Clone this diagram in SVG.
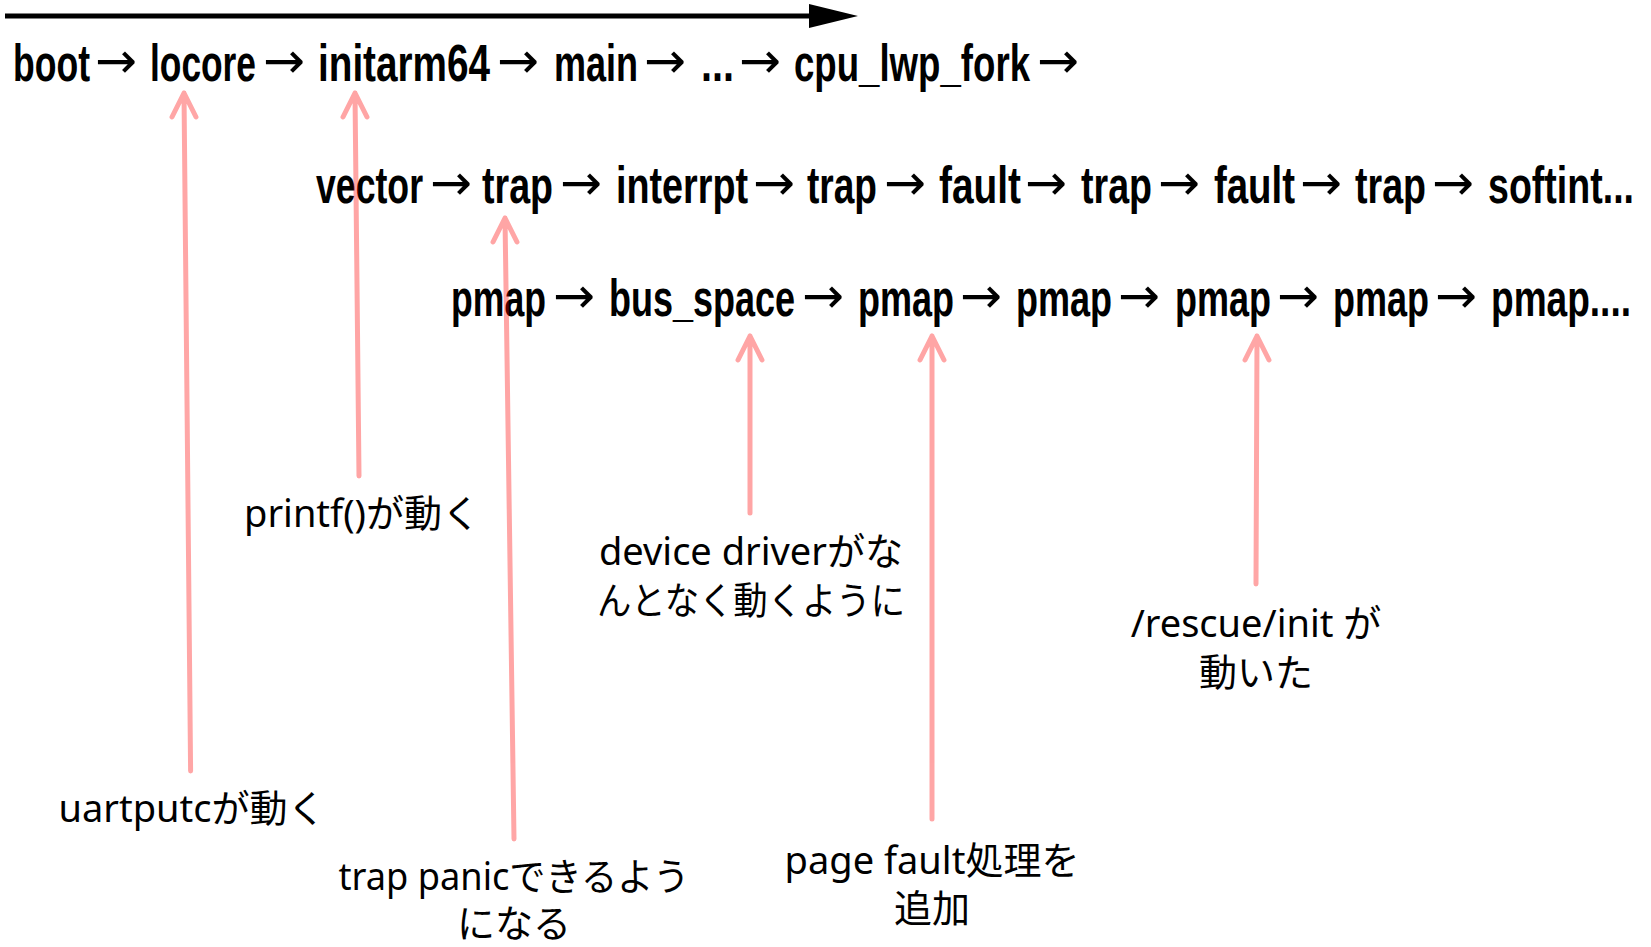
<svg xmlns="http://www.w3.org/2000/svg" width="1651" height="947" viewBox="0 0 1651 947">
<style>
.w{font-family:"Liberation Sans Narrow","Liberation Sans",Arial,sans-serif;font-weight:bold;font-size:52px;fill:#000}
.a{font-family:"DejaVu Sans",sans-serif;font-weight:normal;font-size:50px;fill:#000}
.l{font-family:"Noto Sans","Noto Sans CJK JP",sans-serif;font-size:38px;fill:#000;text-anchor:middle}
.p{stroke:#ff0000;stroke-width:5;fill:none;stroke-linecap:round;stroke-linejoin:round}
</style>
<rect width="1651" height="947" fill="#fff"/>
<g id="timeline">
<line x1="5" y1="16" x2="812" y2="16" stroke="#000" stroke-width="5"/>
<polygon points="809,4 858,16 809,28" fill="#000"/>
</g>
<g id="row1">
<text class="w" x="13" y="81" textLength="77" lengthAdjust="spacingAndGlyphs">boot</text>
<text class="a" x="95" y="78" textLength="42" lengthAdjust="spacingAndGlyphs">→</text>
<text class="w" x="150" y="81" textLength="106" lengthAdjust="spacingAndGlyphs">locore</text>
<text class="a" x="263" y="78" textLength="42" lengthAdjust="spacingAndGlyphs">→</text>
<text class="w" x="318" y="81" textLength="172" lengthAdjust="spacingAndGlyphs">initarm64</text>
<text class="a" x="497" y="78" textLength="42" lengthAdjust="spacingAndGlyphs">→</text>
<text class="w" x="554" y="81" textLength="84" lengthAdjust="spacingAndGlyphs">main</text>
<text class="a" x="644" y="78" textLength="42" lengthAdjust="spacingAndGlyphs">→</text>
<text class="w" x="701" y="81" textLength="33" lengthAdjust="spacingAndGlyphs">...</text>
<text class="a" x="739" y="78" textLength="42" lengthAdjust="spacingAndGlyphs">→</text>
<text class="w" x="794" y="81" textLength="236" lengthAdjust="spacingAndGlyphs">cpu_lwp_fork</text>
<text class="a" x="1037" y="78" textLength="42" lengthAdjust="spacingAndGlyphs">→</text>
</g>
<g id="row2">
<text class="w" x="316" y="203" textLength="107" lengthAdjust="spacingAndGlyphs">vector</text>
<text class="a" x="430" y="200" textLength="42" lengthAdjust="spacingAndGlyphs">→</text>
<text class="w" x="482" y="203" textLength="71" lengthAdjust="spacingAndGlyphs">trap</text>
<text class="a" x="560" y="200" textLength="42" lengthAdjust="spacingAndGlyphs">→</text>
<text class="w" x="616" y="203" textLength="132" lengthAdjust="spacingAndGlyphs">interrpt</text>
<text class="a" x="753" y="200" textLength="42" lengthAdjust="spacingAndGlyphs">→</text>
<text class="w" x="807" y="203" textLength="70" lengthAdjust="spacingAndGlyphs">trap</text>
<text class="a" x="884" y="200" textLength="42" lengthAdjust="spacingAndGlyphs">→</text>
<text class="w" x="939" y="203" textLength="82" lengthAdjust="spacingAndGlyphs">fault</text>
<text class="a" x="1025" y="200" textLength="42" lengthAdjust="spacingAndGlyphs">→</text>
<text class="w" x="1081" y="203" textLength="71" lengthAdjust="spacingAndGlyphs">trap</text>
<text class="a" x="1158" y="200" textLength="42" lengthAdjust="spacingAndGlyphs">→</text>
<text class="w" x="1214" y="203" textLength="81" lengthAdjust="spacingAndGlyphs">fault</text>
<text class="a" x="1300" y="200" textLength="42" lengthAdjust="spacingAndGlyphs">→</text>
<text class="w" x="1355" y="203" textLength="71" lengthAdjust="spacingAndGlyphs">trap</text>
<text class="a" x="1432" y="200" textLength="42" lengthAdjust="spacingAndGlyphs">→</text>
<text class="w" x="1488" y="203" textLength="146" lengthAdjust="spacingAndGlyphs">softint...</text>
</g>
<g id="row3">
<text class="w" x="451" y="316" textLength="95" lengthAdjust="spacingAndGlyphs">pmap</text>
<text class="a" x="553" y="313" textLength="42" lengthAdjust="spacingAndGlyphs">→</text>
<text class="w" x="609" y="316" textLength="186" lengthAdjust="spacingAndGlyphs">bus_space</text>
<text class="a" x="802" y="313" textLength="42" lengthAdjust="spacingAndGlyphs">→</text>
<text class="w" x="858" y="316" textLength="96" lengthAdjust="spacingAndGlyphs">pmap</text>
<text class="a" x="960" y="313" textLength="42" lengthAdjust="spacingAndGlyphs">→</text>
<text class="w" x="1016" y="316" textLength="96" lengthAdjust="spacingAndGlyphs">pmap</text>
<text class="a" x="1118" y="313" textLength="42" lengthAdjust="spacingAndGlyphs">→</text>
<text class="w" x="1175" y="316" textLength="96" lengthAdjust="spacingAndGlyphs">pmap</text>
<text class="a" x="1277" y="313" textLength="42" lengthAdjust="spacingAndGlyphs">→</text>
<text class="w" x="1333" y="316" textLength="96" lengthAdjust="spacingAndGlyphs">pmap</text>
<text class="a" x="1435" y="313" textLength="42" lengthAdjust="spacingAndGlyphs">→</text>
<text class="w" x="1491" y="316" textLength="140" lengthAdjust="spacingAndGlyphs">pmap....</text>
</g>
<g id="label-uartputc"><text class="l" x="192" y="822">uartputcが動く</text></g>
<g id="label-printf"><text class="l" x="362" y="527">printf()が動く</text></g>
<g id="label-trappanic"><text class="l" x="514" y="890" textLength="351" lengthAdjust="spacingAndGlyphs">trap panicできるよう</text><text class="l" x="514" y="937">になる</text></g>
<g id="label-device"><text class="l" x="751" y="565">device driverがな</text><text class="l" x="751" y="614" textLength="308" lengthAdjust="spacingAndGlyphs">んとなく動くように</text></g>
<g id="label-pagefault"><text class="l" x="932" y="874">page fault処理を</text><text class="l" x="932" y="922">追加</text></g>
<g id="label-rescue"><text class="l" x="1256" y="637">/rescue/init が</text><text class="l" x="1256" y="686">動いた</text></g>
<g id="connectors" opacity="0.35">
<path class="p" d="M190.6,771 L184,93 M172,117 L184,93 L196,117"/>
<path class="p" d="M359,476 L355,93 M343,117 L355,93 L367,117"/>
<path class="p" d="M514,839 L505,218 M493,242 L505,218 L517,242"/>
<path class="p" d="M750,513 L750,336 M738,360 L750,336 L762,360"/>
<path class="p" d="M932,819 L932,336 M920,360 L932,336 L944,360"/>
<path class="p" d="M1256,584 L1257,336 M1245,360 L1257,336 L1269,360"/>
</g>
</svg>
